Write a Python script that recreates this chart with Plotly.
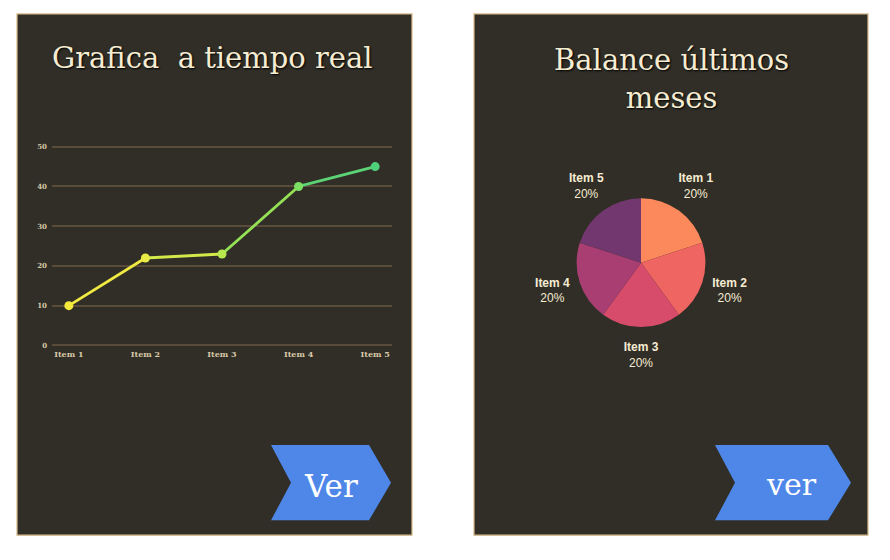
import plotly.graph_objects as go

W, H = 890, 560

# ---- data ----
line_items = ["Item 1", "Item 2", "Item 3", "Item 4", "Item 5"]
line_values = [10, 22, 23, 40, 45]
point_colors = ["#f5e83c", "#e9ec46", "#b8e84e", "#7cde62", "#4fd17c"]
segment_colors = ["#f0ea42", "#d3ea4a", "#96e256", "#5cd476"]
y_ticks = [0, 10, 20, 30, 40, 50]

pie_labels = ["Item 1", "Item 2", "Item 3", "Item 4", "Item 5"]
pie_values = [20, 20, 20, 20, 20]
pie_colors = ["#fc895b", "#ee6562", "#d84c6b", "#a83e72", "#72376e"]

left_title = "Grafica  a tiempo real"
right_title = "Balance últimos<br>meses"
left_button = "Ver"
right_button = "ver"

PANEL_BG = "#302e27"
CREAM = "#f6ecd2"
TAN = "#d8c8a6"
LABEL_R = 94  # radius of pie label ring, in polar units (~px)


def px(x):
    return x / W


def py(y):
    return 1 - y / H


fig = go.Figure()

# line segments with gradient-like colours
for i in range(len(line_values) - 1):
    fig.add_trace(go.Scatter(
        x=line_items[i:i + 2], y=line_values[i:i + 2], mode="lines",
        line=dict(color=segment_colors[i], width=2.8),
        hoverinfo="skip", showlegend=False, xaxis="x", yaxis="y"))
fig.add_trace(go.Scatter(
    x=line_items, y=line_values, mode="markers",
    marker=dict(color=point_colors, size=9),
    showlegend=False, xaxis="x", yaxis="y"))

# pie
PCX, PCY, PR = 641, 262, 65
fig.add_trace(go.Pie(
    labels=pie_labels, values=pie_values,
    marker=dict(colors=pie_colors, line=dict(width=0)),
    sort=False, direction="clockwise", rotation=0,
    textinfo="none",
    domain=dict(x=[px(PCX - PR), px(PCX + PR)], y=[py(PCY + PR), py(PCY - PR)]),
    showlegend=False))

# pie labels placed at slice mid-angles on a polar axis sharing the pie's centre
total = sum(pie_values)
mids, acc = [], 0
for v in pie_values:
    mids.append((acc + v / 2) / total * 360)
    acc += v
pct = [f"{v / total:.0%}" for v in pie_values]
fig.add_trace(go.Scatterpolar(
    r=[LABEL_R] * len(pie_values), theta=mids, mode="text",
    text=[f"<b>{l}</b><br>{p}" for l, p in zip(pie_labels, pct)],
    textposition="middle center",
    textfont=dict(family="Liberation Sans, Arial, sans-serif", size=12, color=CREAM),
    hoverinfo="skip", showlegend=False, subplot="polar"))

shapes = []
# panels
for x0, x1 in [(17, 412), (474, 868)]:
    shapes.append(dict(type="rect", xref="paper", yref="paper",
                       x0=px(x0), x1=px(x1), y0=py(537), y1=py(11),
                       fillcolor=PANEL_BG, line=dict(color="#d9bb8c", width=1.2),
                       layer="below"))


def chevron(xl, notch, xr, tip, top=446, bottom=522):
    mid = (top + bottom) / 2
    pts = [(xl, top), (xr, top), (tip, mid), (xr, bottom), (xl, bottom), (notch, mid)]
    s = "M " + " L ".join(f"{px(a):.5f},{py(b):.5f}" for a, b in pts) + " Z"
    return dict(type="path", xref="paper", yref="paper", path=s,
                fillcolor="#4f87e9", line=dict(width=0), layer="above")


shapes.append(chevron(271, 291, 369, 391))
shapes.append(chevron(715, 735, 828, 851))

title_font = dict(family="DejaVu Serif, serif", size=29, color=CREAM,
                  shadow="1px 1px 2px #000")
annotations = [
    dict(text=left_title, x=px(212), y=py(56), xref="paper", yref="paper",
         showarrow=False, xanchor="center", yanchor="middle", font=title_font),
    dict(text=right_title, x=px(671), y=py(77), xref="paper", yref="paper",
         showarrow=False, xanchor="center", yanchor="middle", font=title_font),
    dict(text=left_button, x=px(331), y=py(487), xref="paper", yref="paper",
         showarrow=False, xanchor="center", yanchor="middle",
         font=dict(family="DejaVu Serif, serif", size=31, color="white")),
    dict(text=right_button, x=px(791), y=py(486), xref="paper", yref="paper",
         showarrow=False, xanchor="center", yanchor="middle",
         font=dict(family="DejaVu Serif, serif", size=30, color="white")),
]

PD = 110  # half-size of polar domain in px
fig.update_layout(
    width=W, height=H, margin=dict(l=0, r=0, t=0, b=0),
    paper_bgcolor="white", plot_bgcolor="rgba(0,0,0,0)",
    shapes=shapes, annotations=annotations,
    xaxis=dict(domain=[px(52), px(392)], range=[-0.22, 4.22], type="category",
               showgrid=False, zeroline=False, showline=False, ticks="",
               ticklabelstandoff=1,
               tickfont=dict(family="DejaVu Serif, serif", size=8, color=TAN,
                             weight="bold")),
    yaxis=dict(domain=[py(347.5), py(143)], range=[-0.5, 50.5], tickvals=y_ticks,
               showgrid=True, gridcolor="#5a4c3b", gridwidth=1.5,
               zeroline=False, showline=False, ticks="", ticklabelstandoff=4,
               tickfont=dict(family="DejaVu Serif, serif", size=7, color=TAN,
                             weight="bold")),
    polar=dict(domain=dict(x=[px(PCX - PD), px(PCX + PD)], y=[py(PCY + PD), py(PCY - PD)]),
               bgcolor="rgba(0,0,0,0)",
               radialaxis=dict(range=[0, PD], visible=False),
               angularaxis=dict(rotation=90, direction="clockwise", visible=False)),
)

fig.write_html("out.html")
